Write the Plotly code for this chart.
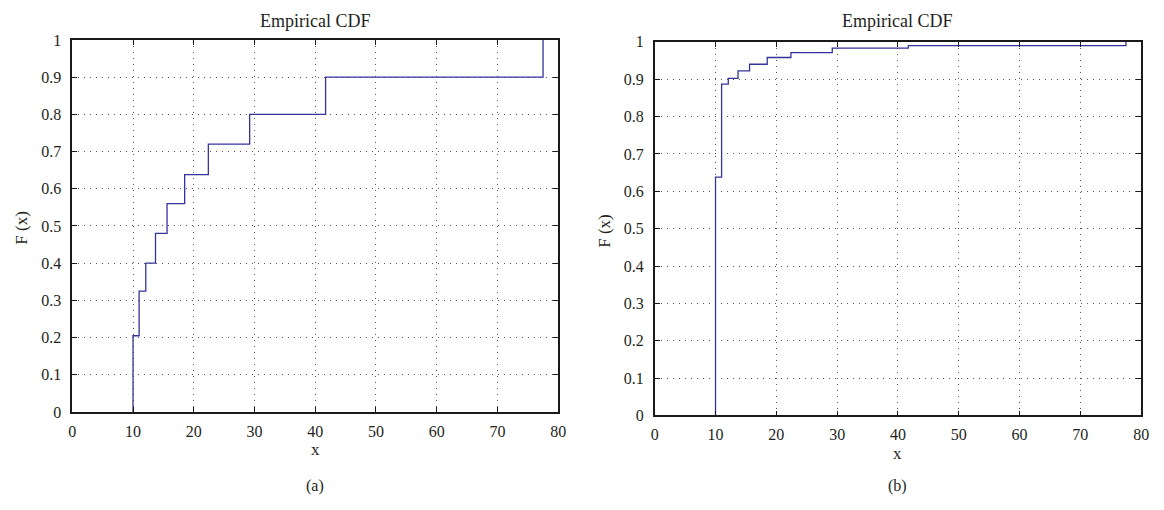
import plotly.graph_objects as go

# Data (empirical CDF steps)
jump_x = [10, 11, 12.1, 13.7, 15.6, 18.5, 22.4, 29.2, 41.7, 77.5]
cdf_a = [0.205, 0.325, 0.40, 0.48, 0.56, 0.638, 0.72, 0.80, 0.90, 1.0]
cdf_b = [0.638, 0.887, 0.902, 0.922, 0.940, 0.958, 0.971, 0.983, 0.99, 1.0]
x_ticks = [0, 10, 20, 30, 40, 50, 60, 70, 80]
y_ticks = [0, 0.1, 0.2, 0.3, 0.4, 0.5, 0.6, 0.7, 0.8, 0.9, 1]
y_ticklabels = ["0", "0.1", "0.2", "0.3", "0.4", "0.5", "0.6", "0.7", "0.8", "0.9", "1"]
panel_titles = ["Empirical CDF", "Empirical CDF"]
panel_tags = ["(a)", "(b)"]

W, H = 1164, 510
FONT = "Liberation Serif"
TXT = "#231f20"
LINE = "#33339a"

fig = go.Figure()

for i, cdf in enumerate([cdf_a, cdf_b]):
    xs = [jump_x[0]] + jump_x
    ys = [0] + cdf
    fig.add_trace(go.Scatter(
        x=xs, y=ys, mode="lines", line=dict(color=LINE, width=1.3, shape="hv"),
        xaxis="x" if i == 0 else "x2", yaxis="y" if i == 0 else "y2",
        showlegend=False, hoverinfo="skip"))

# panel pixel boxes in window coordinates (left, right, top, bottom)
boxes = [(69, 560, 33, 418), (657.5, 1149, 35, 421.5)]

axis_common = dict(
    showline=True, linecolor="#1a1a1a", linewidth=1.6, mirror="ticks",
    ticks="inside", ticklen=5, tickwidth=1, tickcolor="#1a1a1a",
    showgrid=True, gridcolor="#555555", gridwidth=1, griddash="1px,5px",
    zeroline=False, tickfont=dict(family=FONT, size=16, color=TXT),
)

layout = dict(
    width=W, height=H, margin=dict(l=0, r=0, t=0, b=0),
    paper_bgcolor="white", plot_bgcolor="white",
    font=dict(family=FONT, color=TXT), showlegend=False,
)


def px(v):
    return v / W


def py(v):
    return 1 - v / H


annotations = []
for i, (l, r, t, b) in enumerate(boxes):
    xd = [px(l), px(r)]
    yd = [py(b), py(t)]
    sx = "" if i == 0 else "2"
    layout["xaxis" + sx] = dict(axis_common, domain=xd, range=[0, 80],
                                tickvals=x_ticks, anchor="y" + sx,
                                ticklabelstandoff=4)
    layout["yaxis" + sx] = dict(axis_common, domain=yd, range=[0, 1],
                                tickvals=y_ticks, ticktext=y_ticklabels,
                                anchor="x" + sx, ticklabelstandoff=6)
    cx = px((l + r) / 2)
    common = dict(xref="paper", yref="paper", showarrow=False,
                  xanchor="center", yanchor="middle")
    annotations.append(dict(common, text=panel_titles[i], x=cx, y=py(13),
                            font=dict(family=FONT, size=18, color=TXT)))
    annotations.append(dict(common, text="x", x=cx, y=py(b + 39),
                            font=dict(family=FONT, size=17, color=TXT)))
    annotations.append(dict(common, text=panel_tags[i], x=cx, y=py(494),
                            font=dict(family=FONT, size=16, color=TXT)))
    annotations.append(dict(common, text="F (x)", x=px(l - 51),
                            y=py((t + b) / 2 + 2), textangle=-90,
                            font=dict(family=FONT, size=17, color=TXT)))

layout["annotations"] = annotations
fig.update_layout(**layout)
fig.write_html(
    "out.html",
    config={"displayModeBar": False},
    post_script="document.body.style.margin='0px';document.body.style.overflow='hidden';",
)
